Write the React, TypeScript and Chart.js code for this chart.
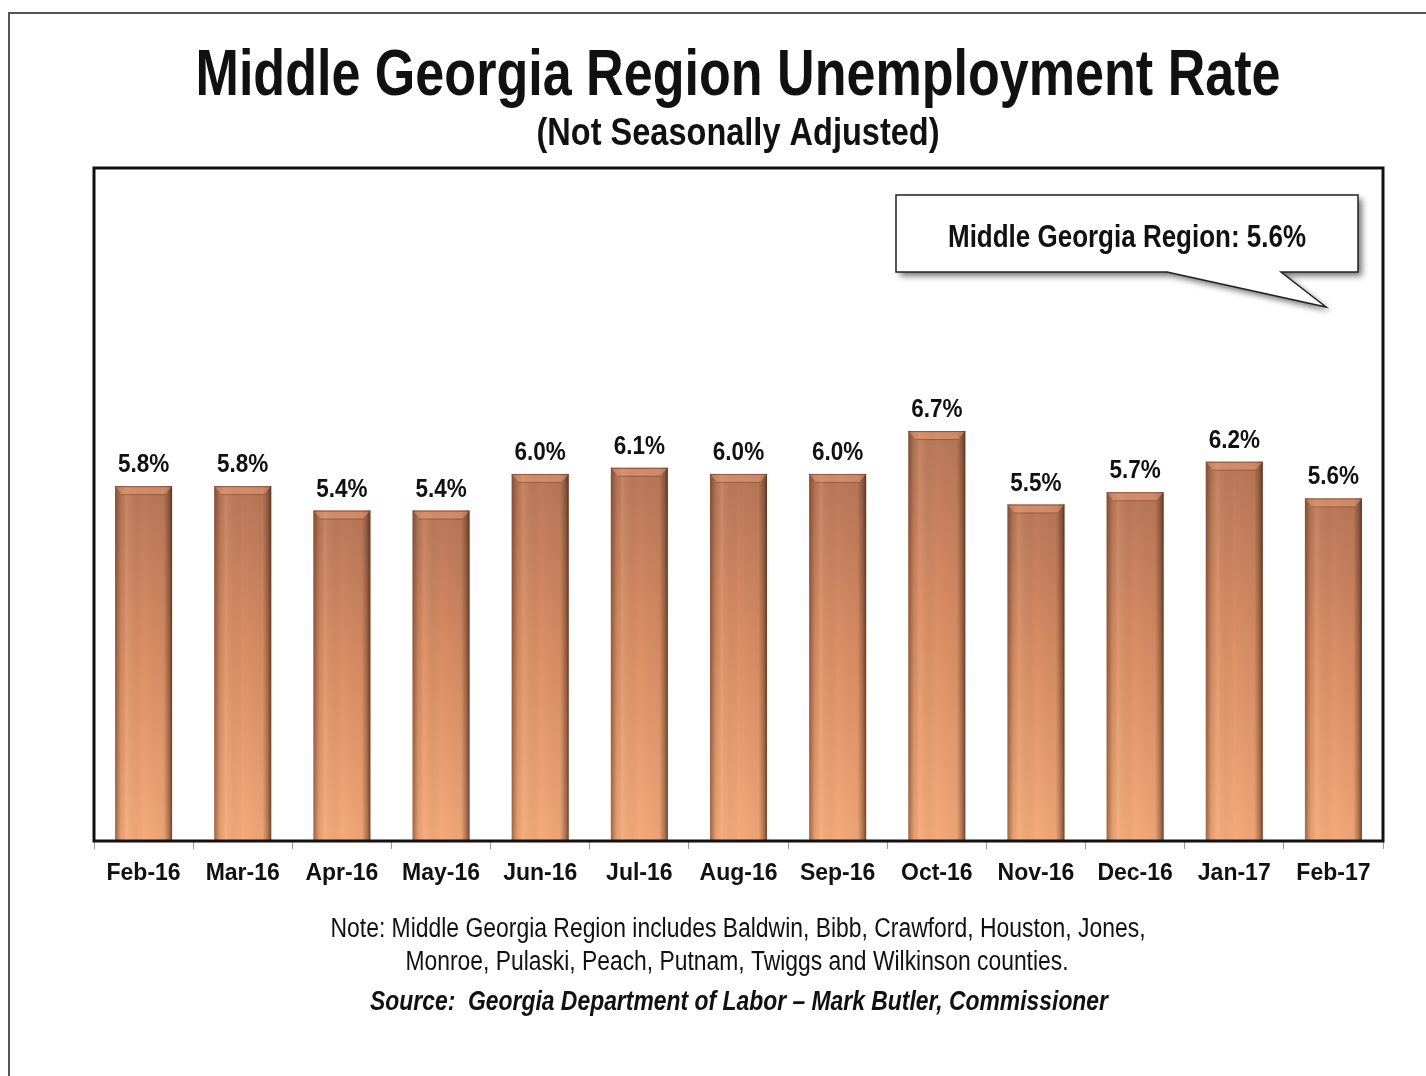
import React, { useEffect, useRef } from "react";
import { Chart, registerables } from "chart.js";

Chart.register(...registerables);

// ---- data ----
const categories = ["Feb-16", "Mar-16", "Apr-16", "May-16", "Jun-16", "Jul-16", "Aug-16", "Sep-16", "Oct-16", "Nov-16", "Dec-16", "Jan-17", "Feb-17"];
const rates = [5.8, 5.8, 5.4, 5.4, 6.0, 6.1, 6.0, 6.0, 6.7, 5.5, 5.7, 6.2, 5.6];
const titleText = "Middle Georgia Region Unemployment Rate";
const subtitleText = "(Not Seasonally Adjusted)";
const calloutText = `Middle Georgia Region: ${rates[rates.length - 1].toFixed(1)}%`;
const noteLines = [
  "Note: Middle Georgia Region includes Baldwin, Bibb, Crawford, Houston, Jones,",
  "Monroe, Pulaski, Peach, Putnam, Twiggs and Wilkinson counties.",
];
const sourceText = "Source:  Georgia Department of Labor \u2013 Mark Butler, Commissioner";

const W = 1426;
const H = 1076;
const FONT = '"Liberation Sans", Arial, sans-serif';

function fitText(
  ctx: CanvasRenderingContext2D,
  text: string,
  cx: number,
  baseline: number,
  font: string,
  targetW: number | null,
  color = "#111"
) {
  ctx.save();
  ctx.font = font;
  const w = ctx.measureText(text).width;
  const sx = targetW ? targetW / w : 1;
  ctx.translate(cx, baseline);
  ctx.scale(sx, 1);
  ctx.textAlign = "center";
  ctx.textBaseline = "alphabetic";
  ctx.fillStyle = color;
  ctx.fillText(text, 0, 0);
  ctx.restore();
}

const decorPlugin = {
  id: "decor",
  beforeDraw(chart: any) {
    const ctx = chart.ctx as CanvasRenderingContext2D;
    ctx.save();
    ctx.fillStyle = "#ffffff";
    ctx.fillRect(0, 0, W, H);
    // outer frame
    ctx.strokeStyle = "#555";
    ctx.lineWidth = 2;
    ctx.beginPath();
    ctx.moveTo(9, H);
    ctx.lineTo(9, 13);
    ctx.lineTo(W, 13);
    ctx.stroke();
    ctx.restore();

    // titles
    fitText(ctx, titleText, 738, 95, `bold 65px ${FONT}`, 1085);
    fitText(ctx, subtitleText, 738, 145, `bold 38px ${FONT}`, 403);
  },
  afterDatasetsDraw(chart: any) {
    const ctx = chart.ctx as CanvasRenderingContext2D;
    const meta = chart.getDatasetMeta(0);
    const ca = chart.chartArea;
    meta.data.forEach((bar: any, i: number) => {
      const { x, y, base, width } = bar.getProps(["x", "y", "base", "width"], true);
      const l = x - width / 2;
      const r = x + width / 2;
      ctx.save();
      // side shading
      const hg = ctx.createLinearGradient(l, 0, r, 0);
      hg.addColorStop(0, "rgba(70,35,15,0.5)");
      hg.addColorStop(0.1, "rgba(70,35,15,0.1)");
      hg.addColorStop(0.2, "rgba(255,200,160,0.14)");
      hg.addColorStop(0.5, "rgba(0,0,0,0)");
      hg.addColorStop(0.85, "rgba(70,35,15,0.06)");
      hg.addColorStop(0.95, "rgba(60,30,12,0.42)");
      hg.addColorStop(1, "rgba(50,25,10,0.72)");
      ctx.fillStyle = hg;
      ctx.fillRect(l, y, width, base - y);
      // top bevel
      ctx.beginPath();
      ctx.moveTo(l, y);
      ctx.lineTo(r, y);
      ctx.lineTo(r - 7, y + 8);
      ctx.lineTo(l + 7, y + 8);
      ctx.closePath();
      ctx.fillStyle = "rgba(236,160,120,0.5)";
      ctx.fill();
      ctx.strokeStyle = "rgba(90,45,25,0.35)";
      ctx.lineWidth = 1;
      ctx.beginPath();
      ctx.moveTo(l + 7, y + 8.5);
      ctx.lineTo(r - 7, y + 8.5);
      ctx.stroke();
      ctx.strokeStyle = "rgba(80,40,20,0.55)";
      ctx.beginPath();
      ctx.moveTo(l, y + 0.5);
      ctx.lineTo(r, y + 0.5);
      ctx.stroke();
      ctx.restore();

      // value label
      const label = rates[i].toFixed(1) + "%";
      ctx.save();
      ctx.font = `bold 25px ${FONT}`;
      const w = ctx.measureText(label).width;
      ctx.restore();
      fitText(ctx, label, x, y - 14, `bold 25px ${FONT}`, w * 0.9);
    });

    // plot box
    ctx.save();
    ctx.strokeStyle = "#111";
    ctx.lineWidth = 3;
    ctx.strokeRect(ca.left, ca.top, ca.right - ca.left, ca.bottom - ca.top);
    ctx.restore();
  },
  afterDraw(chart: any) {
    const ctx = chart.ctx as CanvasRenderingContext2D;
    // callout
    const bl = 896, br = 1358, bt = 195, bb = 272;
    const t1 = 1167, t2 = 1281, tipX = 1326, tipY = 307;
    const path = () => {
      ctx.beginPath();
      ctx.moveTo(bl, bt);
      ctx.lineTo(br, bt);
      ctx.lineTo(br, bb);
      ctx.lineTo(t2, bb);
      ctx.lineTo(tipX, tipY);
      ctx.lineTo(t1, bb);
      ctx.lineTo(bl, bb);
      ctx.closePath();
    };
    ctx.save();
    ctx.shadowColor = "rgba(0,0,0,0.55)";
    ctx.shadowBlur = 6;
    ctx.shadowOffsetX = 4;
    ctx.shadowOffsetY = 4;
    path();
    ctx.fillStyle = "#fff";
    ctx.fill();
    ctx.restore();
    ctx.save();
    path();
    ctx.strokeStyle = "#222";
    ctx.lineWidth = 1.5;
    ctx.stroke();
    ctx.restore();
    fitText(ctx, calloutText, 1127, 247, `bold 31px ${FONT}`, 358);

    // notes
    fitText(ctx, noteLines[0], 738, 937, `27px ${FONT}`, 815);
    fitText(ctx, noteLines[1], 737, 970, `27px ${FONT}`, 663);
    fitText(ctx, sourceText, 739, 1010, `italic bold 27px ${FONT}`, 738);
  },
};

export default function App() {
  const ref = useRef<HTMLCanvasElement | null>(null);
  useEffect(() => {
    if (!ref.current) return;
    const chart = new Chart(ref.current, {
      type: "bar",
      data: {
        labels: categories,
        datasets: [
          {
            data: rates,
            backgroundColor: (c: any) => {
              const chart = c.chart;
              const s = chart.scales?.y;
              if (!chart.chartArea || !s || c.raw == null) return "#e0946a";
              const top = s.getPixelForValue(c.raw);
              const bot = s.getPixelForValue(0);
              const g = chart.ctx.createLinearGradient(0, top, 0, bot);
              g.addColorStop(0, "#b9785a");
              g.addColorStop(0.45, "#da8e65");
              g.addColorStop(1, "#f5ab7b");
              return g;
            },
            borderWidth: 0,
            barPercentage: 0.575,
            categoryPercentage: 1,
          },
        ],
      },
      options: {
        responsive: false,
        animation: false,
        devicePixelRatio: 1,
        layout: { padding: { top: 168, left: 94, right: 43, bottom: 175 } },
        plugins: {
          legend: { display: false },
          tooltip: { enabled: false },
          title: { display: false },
        },
        scales: {
          y: { display: false, min: 0, max: 11 },
          x: {
            offset: true,
            border: { display: false },
            grid: {
              display: true,
              offset: true,
              drawOnChartArea: false,
              drawTicks: true,
              tickLength: 8,
              color: "#9a9a9a",
              lineWidth: 1,
            },
            ticks: {
              color: "#111",
              padding: 11,
              maxRotation: 0,
              autoSkip: false,
              font: { family: FONT, size: 23, weight: "bold" },
            },
            afterFit: (scale: any) => {
              scale.height = 60;
            },
          },
        },
      },
      plugins: [decorPlugin],
    });
    return () => chart.destroy();
  }, []);
  return (
    <div style={{ position: "absolute", left: 0, top: 0, width: W, height: H, background: "#fff" }}>
      <canvas ref={ref} width={W} height={H} style={{ display: "block", width: W, height: H }} />
    </div>
  );
}
